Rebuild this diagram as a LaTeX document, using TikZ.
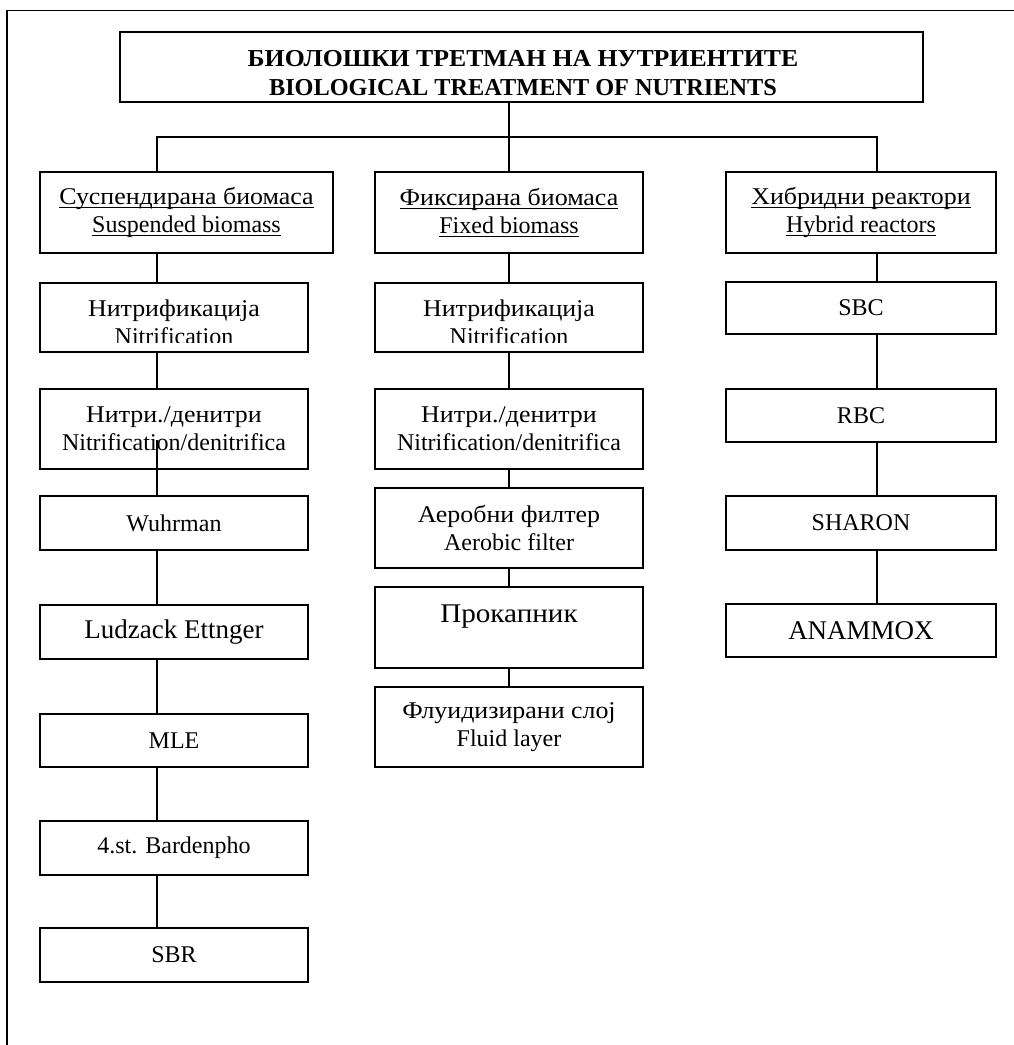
\documentclass[tikz,border=0pt]{standalone}
\usepackage{fontspec}
\setmainfont{Liberation Serif}
% Cyrillic lines are set slightly wider
\newfontfamily\cyr[FakeStretch=1.08]{Liberation Serif}
\newfontfamily\cyrbold[FakeStretch=1.06]{Liberation Serif}
\usetikzlibrary{calc}
% underline at a fixed depth below the baseline, crossing descenders
\newsavebox{\ulinebox}
\newcommand{\lineunder}[1]{\sbox{\ulinebox}{#1}%
  \rlap{\rule[-3.5pt]{\wd\ulinebox}{1.1pt}}\usebox{\ulinebox}}
\begin{document}
\begin{tikzpicture}[x=1pt,y=-1pt,
  box/.style={draw, line width=1.5pt, inner sep=0pt, align=center,
              font=\fontsize{24}{28}\selectfont},
  bigtext/.style={font=\fontsize{27}{32}\selectfont},
  lbl/.style={inner sep=0pt, align=center, font=\fontsize{24}{28}\selectfont},
  conn/.style={line width=1.2pt},
  colone/.style={box, minimum width=268pt},
  coltwo/.style={box, minimum width=268pt},
  colthree/.style={box, minimum width=270pt}]
\useasboundingbox (0,0) rectangle (1014,1045);
\clip (0,0) rectangle (1014,1045);
\fill[white] (0,0) rectangle (1014,1045);

% outer frame (runs off the page on the right and at the bottom)
\draw[line width=1.8pt] (7,1060) -- (7,10.5) -- (1030,10.5);

% title
\node[box, minimum width=803pt, minimum height=70pt] (title) at (521.5,67) {};
\node[lbl, font=\bfseries\fontsize{24.3}{28.5}\selectfont] (titletxt) at (523,73)
  {{\cyrbold\bfseries БИОЛОШКИ ТРЕТМАН НА НУТРИЕНТИТЕ}\\BIOLOGICAL TREATMENT OF NUTRIENTS};

% column heads
\node[box, minimum width=293pt, minimum height=81pt] (h1) at (186.5,212.5)
  {\lineunder{\cyr Суспендирана биомаса}\\\lineunder{Suspended biomass}};
\node[box, minimum width=268pt, minimum height=81pt] (h2) at (509,212.5)
  {\lineunder{\cyr Фиксирана биомаса}\\\lineunder{Fixed biomass}};
\node[box, minimum width=270pt, minimum height=81pt] (h3) at (861,212.5)
  {\lineunder{\cyr Хибридни реактори}\\\lineunder{Hybrid reactors}};

% column 1: suspended biomass
\node[colone, minimum height=69pt] (n1) at (174,317.5) {};
\begin{scope}
  \clip (n1.north west) rectangle ($(n1.south east)+(0,-10)$);
  \node[lbl] (n1t) at (174,322.5) {{\cyr Нитрификација}\\Nitrification};
\end{scope}
\node[colone, minimum height=80pt] (d1) at (174,429) {{\cyr Нитри./денитри}\\Nitrification/denitrifica};
\node[colone, minimum height=54pt] (w1) at (174,523) {Wuhrman};
\node[colone, minimum height=54pt, bigtext] (l1) at (174,632) {Ludzack Ettnger};
\node[colone, minimum height=53pt] (m1) at (174,740.5) {MLE};
\node[colone, minimum height=54pt] (b1) at (174,848) {4.st. Bardenpho};
\node[colone, minimum height=54pt] (s1) at (174,955) {SBR};

% column 2: fixed biomass
\node[coltwo, minimum height=69pt] (n2) at (509,317.5) {};
\begin{scope}
  \clip (n2.north west) rectangle ($(n2.south east)+(0,-10)$);
  \node[lbl] (n2t) at (509,322.5) {{\cyr Нитрификација}\\Nitrification};
\end{scope}
\node[coltwo, minimum height=80pt] (d2) at (509,429) {{\cyr Нитри./денитри}\\Nitrification/denitrifica};
\node[coltwo, minimum height=80pt] (a2) at (509,528) {{\cyr Аеробни филтер}\\Aerobic filter};
\node[coltwo, minimum height=81pt] (p2) at (509,627.5) {};
\node[lbl, bigtext] (p2t) at (509,617) {\cyr Прокапник};
\node[coltwo, minimum height=80pt] (f2) at (509,727) {{\cyr Флуидизирани слој}\\Fluid layer};

% column 3: hybrid reactors
\node[colthree, minimum height=52pt] (c3) at (861,308) {SBC};
\node[colthree, minimum height=53pt] (r3) at (861,415.5) {RBC};
\node[colthree, minimum height=54pt] (sh3) at (861,523) {SHARON};
\node[colthree, minimum height=53pt, bigtext] (an3) at (861,630.5) {ANAMMOX};

% connectors
\coordinate (c1) at (157,0);
\coordinate (c2) at (509,0);
\coordinate (cc3) at (877,0);
\coordinate (bar) at (509,137);
\draw[conn] (title.south -| c2) -- (h2.north -| c2);
\draw[conn] (h1.north -| c1) |- (bar) -| (h3.north -| cc3);

\foreach \a/\b in {h1/n1, n1/d1, w1/l1, l1/m1, m1/b1, b1/s1}
  \draw[conn] (\a.south -| c1) -- (\b.north -| c1);
\coordinate (d1in) at (157,440);
\draw[conn] (d1in) -- (w1.north -| c1);

\foreach \a/\b in {h2/n2, n2/d2, d2/a2, a2/p2, p2/f2}
  \draw[conn] (\a.south -| c2) -- (\b.north -| c2);

\foreach \a/\b in {h3/c3, c3/r3, r3/sh3, sh3/an3}
  \draw[conn] (\a.south -| cc3) -- (\b.north -| cc3);
\end{tikzpicture}
\end{document}
